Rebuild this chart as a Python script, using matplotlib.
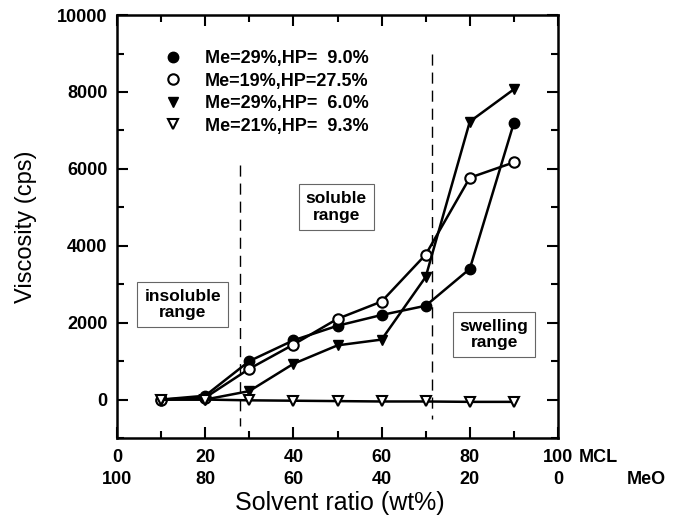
import numpy as np
import matplotlib.pyplot as plt

plt.rcParams['font.family'] = ['Liberation Sans', 'DejaVu Sans']

# data
x = [10, 20, 30, 40, 50, 60, 70, 80, 90]
me29_hp90 = [0, 100, 1000, 1540, 1920, 2200, 2440, 3400, 7200]
me19_hp275 = [0, 50, 800, 1430, 2100, 2550, 3770, 5770, 6170]
me29_hp60 = [0, 0, 220, 930, 1410, 1560, 3190, 7230, 8070]
me21_hp93 = [0, 0, -20, -30, -40, -50, -50, -60, -60]

mcl_labels = ['0', '20', '40', '60', '80', '100']
meo_labels = ['100', '80', '60', '40', '20', '0']
label_pos = [0, 20, 40, 60, 80, 100]

fig = plt.figure(figsize=(6.81, 5.17), dpi=100)
ax = fig.add_axes([0.1718, 0.1528, 0.6476, 0.818])

ms = 7.5
ax.plot(x, me29_hp90, '-o', color='black', mfc='black', mec='black', ms=ms, lw=1.8,
        label='Me=29%,HP=  9.0%')
ax.plot(x, me19_hp275, '-o', color='black', mfc='white', mec='black', mew=1.5, ms=ms, lw=1.8,
        label='Me=19%,HP=27.5%')
ax.plot(x, me29_hp60, '-v', color='black', mfc='black', mec='black', ms=ms, lw=1.8,
        label='Me=29%,HP=  6.0%')
ax.plot(x, me21_hp93, '-v', color='black', mfc='white', mec='black', mew=1.5, ms=ms, lw=1.8,
        label='Me=21%,HP=  9.3%')

# range boundaries
ax.plot([28, 28], [6100, -700], '--', color='black', lw=1.0, dashes=(8, 5))
ax.plot([71.5, 71.5], [9000, -500], '--', color='black', lw=1.0, dashes=(8, 5))

box = dict(boxstyle='square,pad=0.4', fc='white', ec='#666666', lw=0.8)
ax.text(14.9, 2470, 'insoluble\nrange', ha='center', va='center', fontsize=12.5,
        fontweight='bold', linespacing=1.15, bbox=box)
ax.text(49.7, 5010, 'soluble\nrange', ha='center', va='center', fontsize=12.5,
        fontweight='bold', linespacing=1.15, bbox=box)
ax.text(85.5, 1690, 'swelling\nrange', ha='center', va='center', fontsize=12.5,
        fontweight='bold', linespacing=1.15, bbox=box)

leg = ax.legend(loc='upper left', bbox_to_anchor=(0.09, 0.955), frameon=False,
                handlelength=0, handletextpad=1.75, labelspacing=0.3,
                prop={'size': 13, 'weight': 'bold'}, markerscale=1.0)
for h in leg.legend_handles:
    h.set_linestyle('')

ax.set_xlim(0, 100)
ax.set_ylim(-1000, 10000)
ax.set_xticks(np.arange(0, 101, 20))
ax.set_xticks(np.arange(10, 100, 20), minor=True)
ax.set_yticks(np.arange(0, 10001, 2000))
ax.set_yticks(np.arange(-1000, 10001, 1000), minor=True)
ax.set_xticklabels([])
ax.tick_params(axis='both', which='both', direction='in', top=True, right=True,
               width=1.5)
ax.tick_params(axis='both', which='major', length=8)
ax.tick_params(axis='both', which='minor', length=5)
ax.tick_params(axis='y', labelsize=13, pad=7)
for t in ax.get_yticklabels():
    t.set_fontweight('bold')
for s in ax.spines.values():
    s.set_linewidth(1.8)

tr = ax.get_xaxis_transform()
for p, a, b in zip(label_pos, mcl_labels, meo_labels):
    ax.text(p, -0.047, a, transform=tr, ha='center', va='center', fontsize=13,
            fontweight='bold')
    ax.text(p, -0.097, b, transform=tr, ha='center', va='center', fontsize=13,
            fontweight='bold')
ax.text(104.8, -0.047, 'MCL', transform=tr, ha='left', va='center', fontsize=13,
        fontweight='bold')
ax.text(115.6, -0.097, 'MeO', transform=tr, ha='left', va='center', fontsize=13,
        fontweight='bold')

ax.text(50.5, -0.154, 'Solvent ratio (wt%)', transform=tr, ha='center', va='center',
        fontsize=18)
ax.set_ylabel('Viscosity (cps)', fontsize=17, labelpad=14)

fig.savefig('out.png', dpi=100)
